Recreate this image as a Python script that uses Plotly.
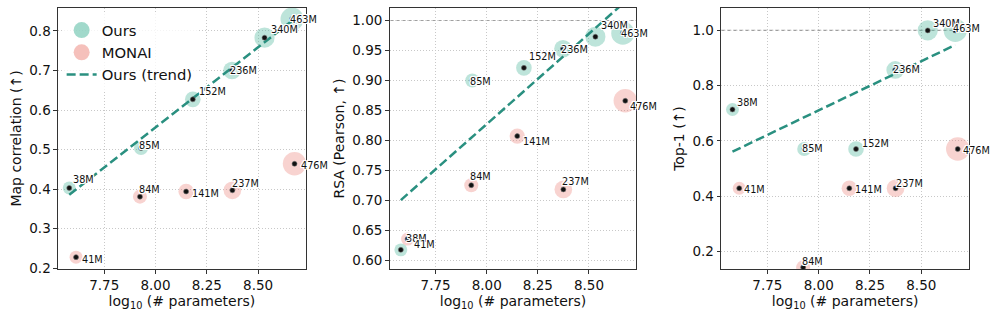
import numpy as np
import plotly.graph_objects as go
from plotly.subplots import make_subplots

# model sizes (millions of parameters)
ours_params = [38, 85, 152, 236, 340, 463]
monai_params = [41, 84, 141, 237, 476]

# metric values
map_corr_ours = [0.403, 0.504, 0.627, 0.700, 0.783, 0.830]
map_corr_monai = [0.228, 0.381, 0.394, 0.397, 0.464]
rsa_ours = [0.617, 0.900, 0.921, 0.953, 0.973, 0.979]
rsa_monai = [0.635, 0.725, 0.807, 0.718, 0.866]
top1_ours = [0.714, 0.571, 0.571, 0.857, 1.0, 1.0]
top1_monai = [0.429, 0.143, 0.429, 0.429, 0.571]

panel_titles = ["Map correlation (↑)", "RSA (Pearson, ↑)", "Top-1 (↑)"]
x_ticks = [7.75, 8.00, 8.25, 8.50]

TEAL = "rgba(84,185,160,0.55)"
PINK = "rgba(235,130,120,0.5)"
TREND = "#2a9080"
FONT = "DejaVu Sans, sans-serif"

# label offsets in pixels (dx, dy up) - hand placed like the original
ours_offsets = [
    [(2, 8), (-4, 2), (4, 8), (-4, 0), (4, 8), (-4, 0)],
    [(3, 11), (-4, -1), (3, 11), (-4, -1), (4, 11), (-4, 0)],
    [(3, 7), (-4, 1), (4, 6), (-4, 0), (3, 7), (-4, 2)],
]
monai_offsets = [
    [(4, -2), (-3, 7), (4, -2), (-2, 7), (4, -2)],
    [(4, -5), (-3, 9), (4, -5), (-3, 8), (3, -6)],
    [(3, -1), (-3, 6), (4, -1), (-2, 5), (3, -1)],
]

x_ours = np.log10(np.array(ours_params) * 1e6)
x_monai = np.log10(np.array(monai_params) * 1e6)
size_ours = 12 + 0.024 * np.array(ours_params)
size_monai = 12 + 0.024 * np.array(monai_params)

all_x = np.concatenate([x_ours, x_monai])
span = all_x.max() - all_x.min()
x_range = [all_x.min() - 0.05 * span, all_x.max() + 0.05 * span]

y_ranges = [[0.198, 0.858], [0.585, 1.021], [0.137, 1.081]]
y_dtick = [0.1, 0.05, 0.2]
y_fmt = [".1f", ".2f", ".1f"]

panels = [
    (map_corr_ours, map_corr_monai),
    (rsa_ours, rsa_monai),
    (top1_ours, top1_monai),
]

fig = make_subplots(rows=1, cols=3)
domains = [[0.0, 0.272], [0.364, 0.635], [0.728, 1.0]]

shadow = ("-1px -1px 0 #fff, 1px -1px 0 #fff, -1px 1px 0 #fff, 1px 1px 0 #fff, "
          "0 -1px 0 #fff, 0 1px 0 #fff, -1px 0 0 #fff, 1px 0 0 #fff")

for i, (y_o, y_m) in enumerate(panels):
    col = i + 1
    xr = "x" if i == 0 else f"x{col}"
    yr = "y" if i == 0 else f"y{col}"

    fig.add_trace(go.Scatter(
        x=x_ours, y=y_o, mode="markers", showlegend=False, hoverinfo="skip",
        marker=dict(size=size_ours, color=TEAL, line=dict(width=0)),
    ), row=1, col=col)
    fig.add_trace(go.Scatter(
        x=x_monai, y=y_m, mode="markers", showlegend=False, hoverinfo="skip",
        marker=dict(size=size_monai, color=PINK, line=dict(width=0)),
    ), row=1, col=col)

    # linear trend through our points
    slope, icpt = np.polyfit(x_ours, y_o, 1)
    tx = np.array([x_ours.min(), x_ours.max()])
    fig.add_trace(go.Scatter(
        x=tx, y=slope * tx + icpt, mode="lines", showlegend=False, hoverinfo="skip",
        line=dict(color=TREND, width=2.5, dash="9px,4px"),
    ), row=1, col=col)

    fig.add_trace(go.Scatter(
        x=np.concatenate([x_ours, x_monai]), y=list(y_o) + list(y_m),
        mode="markers", showlegend=False, hoverinfo="skip",
        marker=dict(size=5, color="#111111", line=dict(width=0.6, color="#777777")),
    ), row=1, col=col)

    if i > 0:
        fig.add_shape(type="line", xref=f"{xr} domain", yref=yr, x0=0, x1=1, y0=1.0, y1=1.0,
                      line=dict(color="#a0a0a0", width=1.1, dash="4px,2px"), layer="below")

    for params, xs, ys, offs in [(ours_params, x_ours, y_o, ours_offsets[i]),
                                 (monai_params, x_monai, y_m, monai_offsets[i])]:
        for p, xv, yv, (dx, dy) in zip(params, xs, ys, offs):
            fig.add_annotation(
                x=xv, y=yv, xref=xr, yref=yr, text=f"{p}M", showarrow=False,
                xanchor="left", yanchor="middle", xshift=dx, yshift=dy,
                font=dict(size=9.7, color="#111111", family=FONT, shadow=shadow),
            )

    fig.update_xaxes(
        domain=domains[i], range=x_range, tickvals=x_ticks, tickformat=".2f",
        title=dict(text="log<sub>10</sub> (# parameters)", font=dict(size=14), standoff=4),
        row=1, col=col,
    )
    fig.update_yaxes(
        range=y_ranges[i], dtick=y_dtick[i], tick0=0, tickformat=y_fmt[i],
        title=dict(text=panel_titles[i], font=dict(size=14), standoff=4),
        row=1, col=col,
    )

# legend entries
fig.add_trace(go.Scatter(x=[None], y=[None], mode="markers", name="Ours",
                         marker=dict(size=20, color=TEAL)))
fig.add_trace(go.Scatter(x=[None], y=[None], mode="markers", name="MONAI",
                         marker=dict(size=20, color=PINK)))
fig.add_trace(go.Scatter(x=[None], y=[None], mode="lines", name="Ours (trend)",
                         line=dict(color=TREND, width=2.5, dash="9px,4px")))

axis_style = dict(
    automargin=False,
    showline=True, linecolor="#333333", linewidth=1.1, mirror=True,
    ticks="outside", ticklen=3.5, tickcolor="#333333",
    showgrid=True, gridcolor="#c8c8c8", griddash="1px,2px", gridwidth=0.8,
    zeroline=False, tickfont=dict(size=13.5),
)
fig.update_xaxes(**axis_style)
fig.update_yaxes(**axis_style)

fig.update_layout(
    width=997, height=321,
    margin=dict(l=58, r=28, t=8, b=52),
    paper_bgcolor="white", plot_bgcolor="white",
    font=dict(family=FONT, color="#111111", size=13.5),
    legend=dict(x=0.004, y=0.977, xanchor="left", yanchor="top",
                bgcolor="rgba(255,255,255,0.8)", borderwidth=0,
                font=dict(size=14.8), itemsizing="trace"),
)

# drop the default page margin so the figure sits at the window corner
fig.write_html("out.html", config={"displayModeBar": False},
               post_script="document.body.style.margin='0';")
